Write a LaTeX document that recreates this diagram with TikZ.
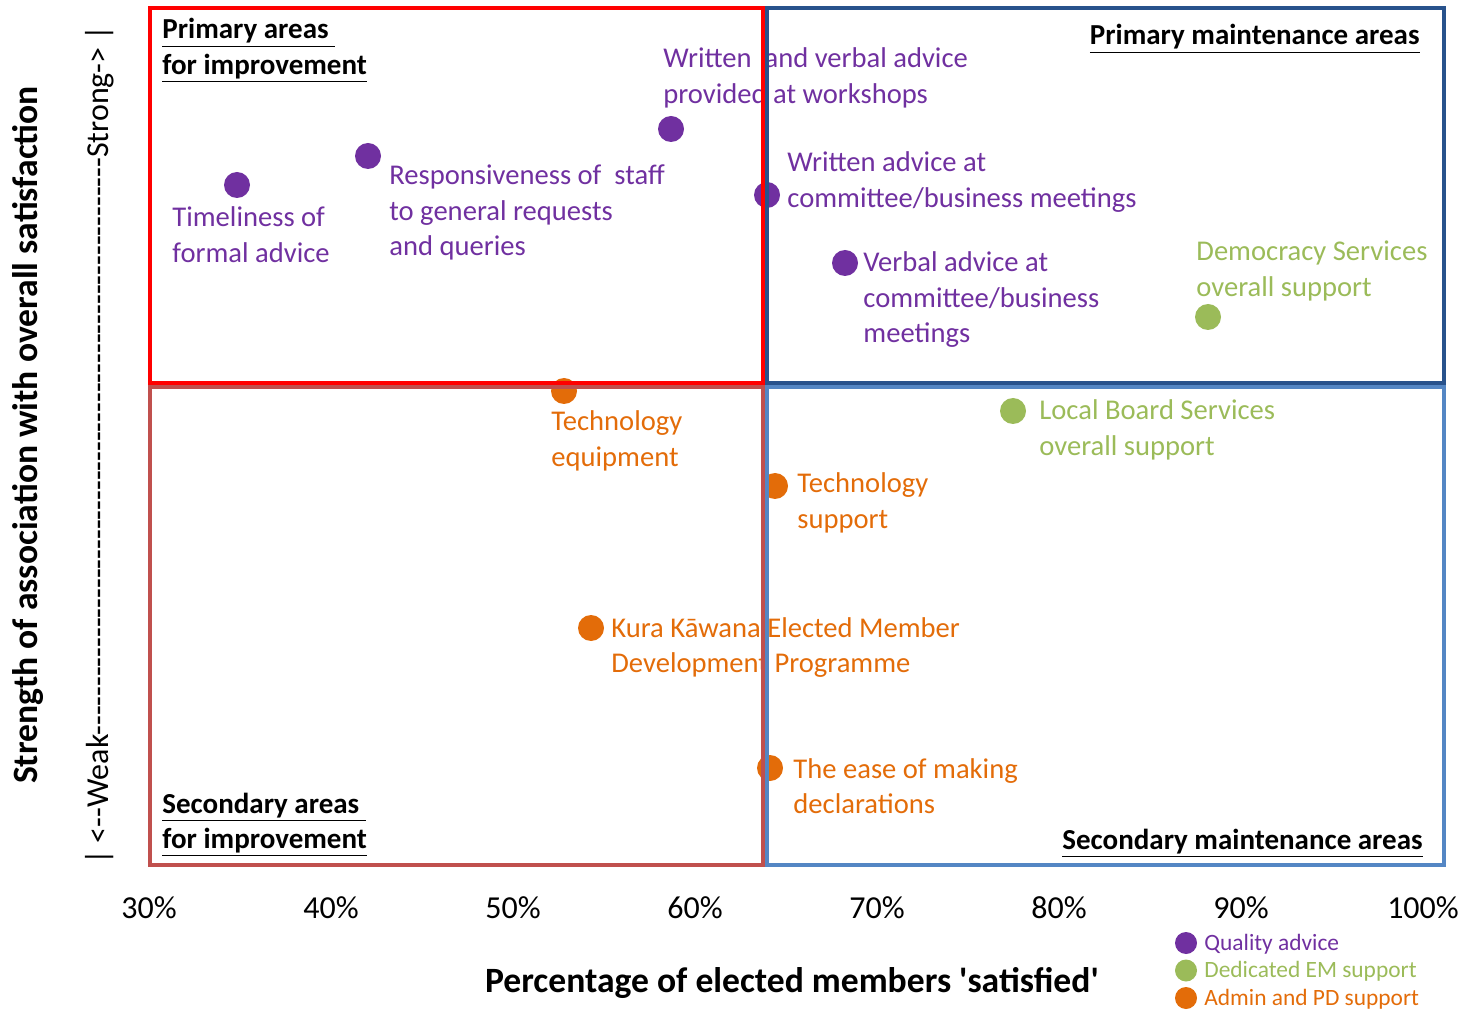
\documentclass[tikz,border=0pt]{standalone}
\usepackage{fontspec}
\setmainfont{Carlito}[Ligatures=TeXOff]
\usetikzlibrary{positioning}

\definecolor{qpurple}{RGB}{112,48,160}
\definecolor{dgreen}{RGB}{155,187,89}
\definecolor{aorange}{RGB}{227,108,9}
\definecolor{boxred}{RGB}{255,0,0}
\definecolor{boxnavy}{RGB}{40,82,140}
\definecolor{boxbrick}{RGB}{192,80,77}
\definecolor{boxblue}{RGB}{84,134,196}

\begin{document}
\begin{tikzpicture}[x=0.5pt, y=-0.5pt,
    bullet/.style={circle, inner sep=0pt, minimum size=13pt},
    lab/.style={anchor=base west, align=left, inner sep=0pt, font=\fontsize{14.3}{17.7}\selectfont},
    ttl/.style={align=left, inner sep=0pt, font=\fontsize{14.5}{17.7}\selectfont\bfseries},
    quad/.style={line width=1.6pt},
    tick/.style={anchor=base, inner sep=0pt, font=\fontsize{16}{19}\selectfont}]
    \useasboundingbox (0,0) rectangle (1462,1010);

    % 数据点
    \foreach \n/\x/\y/\c in {P1/237/185/qpurple, P2/368/156/qpurple, P3/671/129/qpurple,
        P4/767/195/qpurple, P5/845/263/qpurple, G1/1208/317/dgreen, G2/1013/411/dgreen,
        O1/564/391/aorange, O2/775/486/aorange, O3/591/628/aorange, O4/770/768/aorange} {
        \node[bullet, fill=\c] (\n) at (\x,\y) {};
    }

    % 标签（基线取最后一行）
    \node[lab, text=qpurple] (L1) at (172,262.4) {Timeliness of\\formal advice};
    \node[lab, text=qpurple] (L2) at (389,255.8) {Responsiveness of\ \ staff\\to general requests\\and queries};
    \node[lab, text=qpurple] (L3) at (663,103.4) {Written\ \ and verbal advice\\provided at workshops};
    \node[lab, text=qpurple] (L4) at (787,207.4) {Written advice at\\committee/business meetings};
    \node[lab, text=qpurple] (L5) at (863,342.8) {Verbal advice at\\committee/business\\meetings};
    \node[lab, text=dgreen] (L6) at (1196,296.4) {Democracy Services\\overall support};
    \node[lab, text=dgreen] (L7) at (1039,455.4) {Local Board Services\\overall support};
    \node[lab, text=aorange] (L8) at (551,466.4) {Technology\\equipment};
    \node[lab, text=aorange] (L9) at (797,528.4) {Technology\\support};
    \node[lab, text=aorange] (L10) at (611,672.4) {Kura Kāwana Elected Member\\Development Programme};
    \node[lab, text=aorange] (L11) at (793,813.4) {The ease of making\\declarations};

    % 象限
    \draw[quad, boxbrick] (150,387) rectangle (763,865);
    \draw[quad, boxblue] (767,387) rectangle (1444,865);
    \draw[quad, boxnavy] (767,8) rectangle (1444,383);
    \draw[quad, boxred] (150,8) rectangle (763,383);

    \node[ttl, anchor=base west] (T1) at (162,74.4) {\underline{Primary areas\ }\\\underline{for improvement}};
    \node[ttl, anchor=base east] (T2) at (1420,45) {\underline{Primary maintenance areas}};
    \node[ttl, anchor=base west] (T3) at (162,848.4) {\underline{Secondary areas\ }\\\underline{for improvement}};
    \node[ttl, anchor=base east] (T4) at (1423,849) {\underline{Secondary maintenance areas}};

    % 坐标轴
    \foreach \v [count=\i from 0] in {30,40,...,100} {
        \node[tick] (X\i) at (149+182*\i,918) {\v\%};
    }
    \node[anchor=base, inner sep=0pt, font=\fontsize{17.8}{21}\selectfont\bfseries] (XT) at (792,992)
        {Percentage of elected members 'satisfied'};
    \node[rotate=90, inner sep=0pt, font=\fontsize{17.8}{21}\selectfont\bfseries] (YT) at (28,435)
        {Strength of association with overall satisfaction};
    \node[rotate=90, inner sep=0pt, font=\fontsize{16}{19}\selectfont] (YS) at (100,445)
        {| <--Weak-----------------------------------------------------------Strong-> |};

    % 图例
    \foreach \c/\t [count=\i from 0] in {qpurple/Quality advice, dgreen/Dedicated EM support, aorange/Admin and PD support} {
        \node[bullet, fill=\c, minimum size=11pt] (D\i) at (1186,943+27.5*\i) {};
        \node[anchor=base west, inner sep=0pt, text=\c, font=\fontsize{11.7}{13.75}\selectfont] (E\i) at (1204,950+27.5*\i) {\t};
    }
\end{tikzpicture}
\end{document}
